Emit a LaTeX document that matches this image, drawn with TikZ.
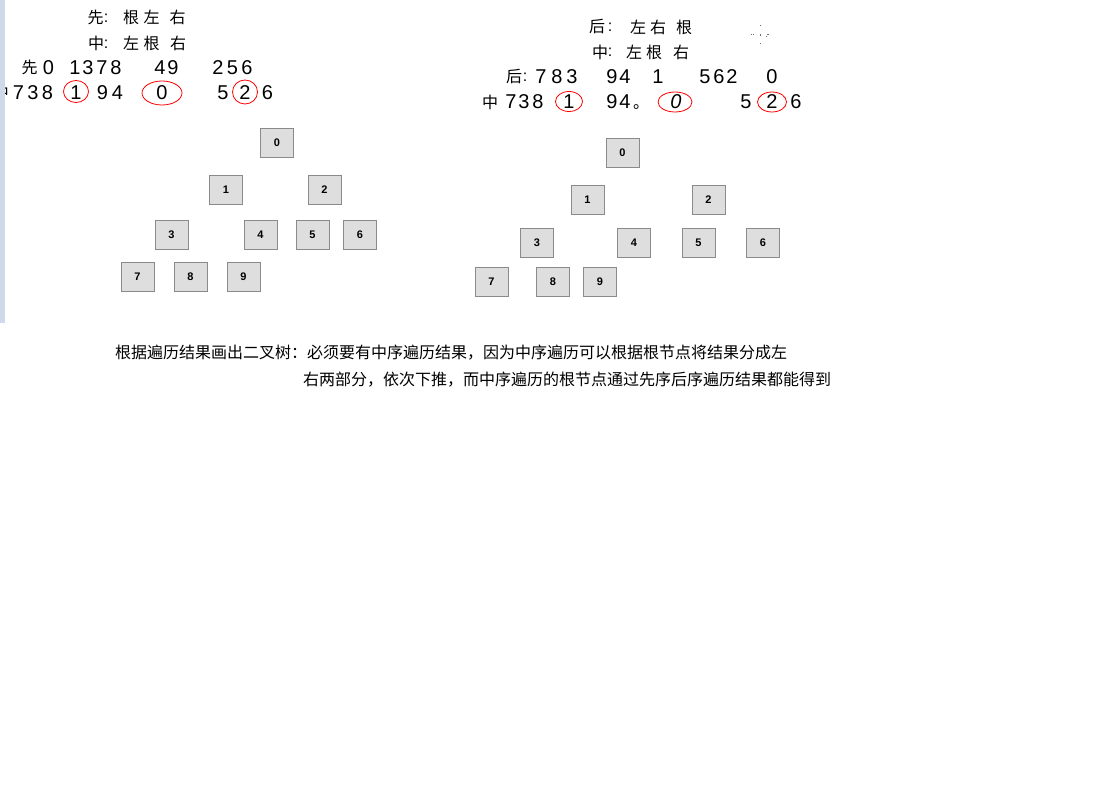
\documentclass[tikz,border=0pt]{standalone}
\usepackage{fontspec}
\setmainfont{Liberation Sans}
\newfontfamily\cjk{Noto Sans CJK SC}
\usetikzlibrary{shadows,shapes.geometric}
\definecolor{boxfill}{HTML}{DEDEDE}
\definecolor{boxborder}{HTML}{8A8A8A}
\definecolor{barblue}{HTML}{CFD9E9}
\definecolor{dotgray}{HTML}{707070}
\begin{document}
\begin{tikzpicture}[x=1pt,y=-1pt,
  cj/.style={inner sep=0pt, font=\cjk\fontsize{16}{16}\selectfont},
  dg/.style={inner sep=0pt, font=\fontsize{20}{20}\selectfont},
  cl/.style={inner sep=0pt, font=\fontsize{16}{16}\selectfont},
  redell/.style={draw=red, line width=0.8pt, ellipse, inner sep=0pt},
  tbox/.style={draw=boxborder, fill=boxfill, line width=0.7pt, minimum width=33, minimum height=29, inner sep=0pt,
    font=\fontsize{11}{11}\selectfont\bfseries,
    drop shadow={shadow xshift=0.8pt, shadow yshift=-1pt, opacity=0.35}},
  note/.style={inner sep=0pt, anchor=west, font=\cjk\fontsize{16}{16}\selectfont}]
\useasboundingbox (0,0) rectangle (1100,794);
\begin{scope}
\clip (0,0) rectangle (1100,794);
% ---------- left header ----------
\foreach \x/\c [count=\i] in {95.5/先,131/根,151.5/左,177.5/右}
  \node[cj] (la\i) at (\x,17.5) {\c};
\node[cl] (lac) at (106,18) {:};
\foreach \x/\c [count=\i] in {96/中,131/左,151.5/根,178/右}
  \node[cj] (lb\i) at (\x,43.5) {\c};
\node[cl] (lbc) at (106,44) {:};
\node[cj] (lcx) at (29.5,67.5) {先};
\foreach \x/\c [count=\i] in {48.5/0,75/1,88/3,102/7,116/8,160/4,173/9,218/2,232.5/5,247/6}
  \node[dg] (lc\i) at (\x,67.5) {\c};
\node[cj] (ldx) at (1,92.5) {中};
\foreach \x/\c [count=\i] in {18.5/7,33/3,47.5/8,76/1,102.5/9,117.5/4,162/0,223/5,245/2,267.5/6}
  \node[dg] (ld\i) at (\x,92.5) {\c};
\node[redell, minimum width=25, minimum height=22] (le1) at (76,91.5) {};
\node[redell, minimum width=40, minimum height=24] (le0) at (162,93) {};
\node[redell, minimum width=25, minimum height=24] (le2) at (245,92) {};
% ---------- right header ----------
\foreach \x/\c [count=\i] in {597/后,638/左,658/右,684/根}
  \node[cj] (ra\i) at (\x,27) {\c};
\node[cl] (rac) at (610,27.5) {:};
\foreach \x/\c [count=\i] in {600/中,634/左,654/根,681/右}
  \node[cj] (rb\i) at (\x,52) {\c};
\node[cl] (rbc) at (610,52.5) {:};
\node[cj] (rcx) at (514,77) {后};
\node[cl] (rcc) at (525,77.5) {:};
\foreach \x/\c [count=\i] in {541/7,557/8,572/3,612/9,625/4,658/1,705/5,719/6,732/2,772/0}
  \node[dg] (rc\i) at (\x,77) {\c};
\node[cj] (rdx) at (490,102) {中};
\foreach \x/\c [count=\i] in {511/7,524/3,538/8,569/1,612/9,625/4,746/5,772/2,796/6}
  \node[dg] (rd\i) at (\x,102) {\c};
\node[cj] (rdp) at (641,107) {。};
\node[dg, font=\fontsize{20}{20}\selectfont\itshape] (rd0) at (676,102) {0};
\node[redell, minimum width=27, minimum height=20] (re1) at (569,101.5) {};
\node[redell, minimum width=34, minimum height=20] (re0) at (675,102) {};
\node[redell, minimum width=29, minimum height=20] (re2) at (772,102) {};
% small dotted cross
\foreach \x/\y in {760.7/25.7,760.7/35,760.7/43.3,751.7/34.3,753.3/34.3,768/34.3,766.7/36.7}
  \fill[dotgray] (\x-0.6,\y-0.6) rectangle (\x+0.6,\y+0.6);
% ---------- left tree ----------
\node[tbox] (L0) at (277,142.5) {0};
\node[tbox] (L1) at (226,190) {1};
\node[tbox] (L2) at (324.5,190) {2};
\node[tbox] (L3) at (171.5,235) {3};
\node[tbox] (L4) at (260.5,235) {4};
\node[tbox] (L5) at (312.5,235) {5};
\node[tbox] (L6) at (360,235) {6};
\node[tbox] (L7) at (137.5,277) {7};
\node[tbox] (L8) at (190.5,277) {8};
\node[tbox] (L9) at (243.5,277) {9};
% ---------- right tree ----------
\node[tbox] (R0) at (622.5,152.5) {0};
\node[tbox] (R1) at (587.5,199.5) {1};
\node[tbox] (R2) at (708.5,199.5) {2};
\node[tbox] (R3) at (537,243) {3};
\node[tbox] (R4) at (634,243) {4};
\node[tbox] (R5) at (698.5,243) {5};
\node[tbox] (R6) at (763,243) {6};
\node[tbox] (R7) at (491.5,281.5) {7};
\node[tbox] (R8) at (553,281.5) {8};
\node[tbox] (R9) at (600,281.5) {9};
% ---------- note ----------
\node[note] (n1) at (115,353) {根据遍历结果画出二叉树：必须要有中序遍历结果，因为中序遍历可以根据根节点将结果分成左};
\node[note] (n2) at (303,380) {右两部分，依次下推，而中序遍历的根节点通过先序后序遍历结果都能得到};
% left bar
\fill[barblue] (0,0) rectangle (5,323);
\end{scope}
\end{tikzpicture}
\end{document}
